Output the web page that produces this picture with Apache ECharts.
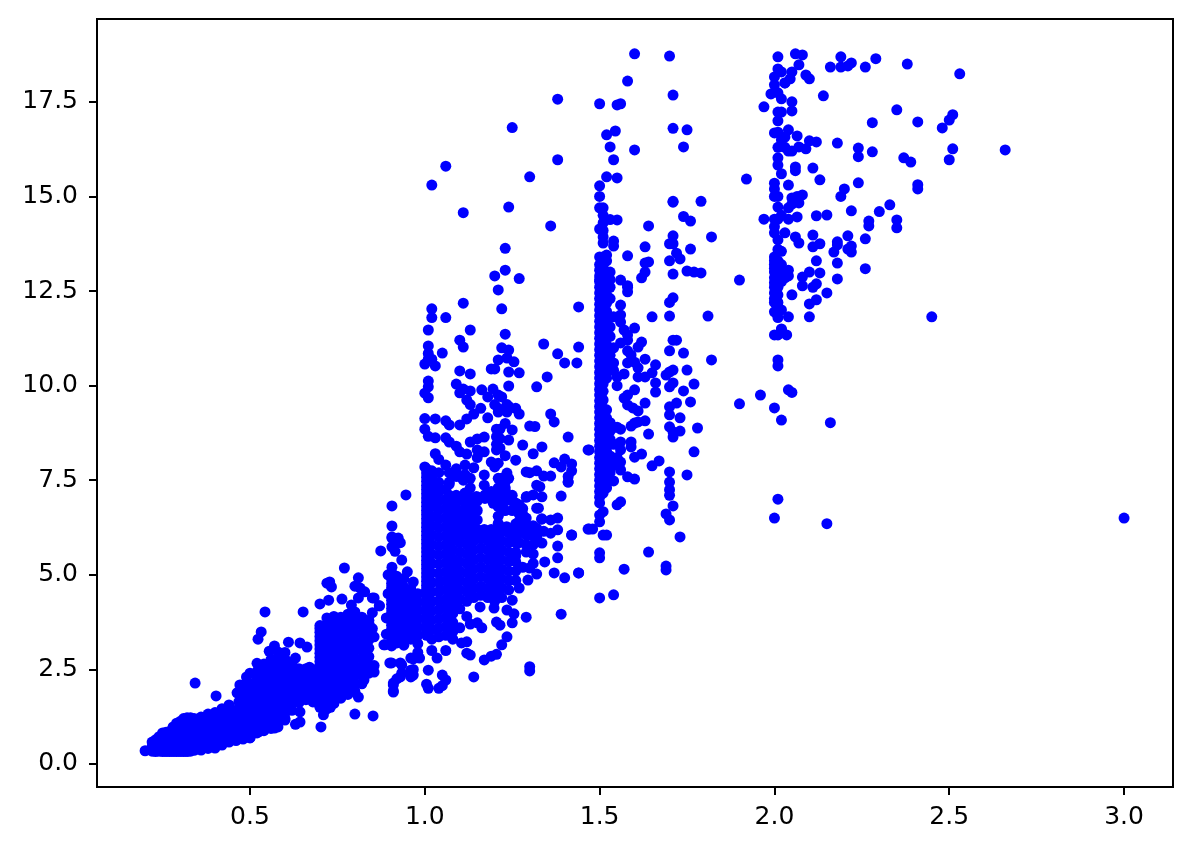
<!DOCTYPE html>
<html><head><meta charset="utf-8">
<style>html,body{margin:0;padding:0;background:#fff}#c{width:1191px;height:851px}</style>
<script src="https://cdn.jsdelivr.net/npm/echarts@6/dist/echarts.min.js"></script>
</head><body><div id="c"></div>
<script>
const xTicks=[0.5,1.0,1.5,2.0,2.5,3.0];
const yTicks=[0,2.5,5,7.5,10,12.5,15,17.5];
// each row: carat, then prices read at that carat
const rowsSmall=[
[.20,.35],[.22,.34,.46,.58],[.23,.33,.5,.64],[.24,.34,.5,.62,.72],[.25,.33,.46,.58,.7,.82],[.26,.33,.45,.56,.68,.84],[.27,.33,.46,.58,.7,.86],
[.28,.33,.48,.6,.72,.85,.98],[.29,.33,.45,.56,.7,.84,1.0,1.08],[.30,.33,.45,.58,.72,.86,1.0,1.12],[.31,.33,.46,.6,.75,.9,1.05,1.2],[.32,.33,.47,.62,.78,.93,1.08,1.22],
[.33,.34,.48,.64,.8,.95,1.1,1.22],[.34,.36,.5,.66,.82,.98,1.1,1.2],[.36,.37,.52,.68,.84,1.0,1.14,1.24],[.38,.41,.56,.7,.86,1.02,1.18,1.32],[.40,.42,.58,.74,.9,1.06,1.2,1.36],
[.42,.5,.66,.82,.98,1.14,1.3,1.46],[.44,.58,.72,.88,1.04,1.2,1.36,1.56],[.46,.62,.78,.94,1.1,1.26,1.42],[.48,.66,.82,.98,1.14,1.3,1.46,1.62,1.8,2.02]
];
const rowsHalf=[
[.49,.72,.9,1.08,1.26,1.44,1.62,1.8,1.98,2.16,2.3],[.50,.7,.86,1.04,1.22,1.4,1.58,1.76,1.94,2.12,2.4],[.52,.82,1.0,1.18,1.36,1.54,1.72,1.9,2.08,2.26,2.44,2.66],
[.54,.88,1.06,1.24,1.42,1.6,1.78,1.96,2.14,2.32,2.5,2.64],[.56,.94,1.12,1.3,1.48,1.66,1.84,2.02,2.2,2.38,2.56,2.76],[.58,.98,1.16,1.34,1.52,1.7,1.88,2.06,2.24,2.42,2.6,2.82,2.96],
[.60,1.16,1.34,1.52,1.7,1.88,2.06,2.24,2.42,2.6,2.78],[.62,1.42,1.6,1.78,1.96,2.14,2.32,2.5,2.66],[.64,1.62,1.8,1.98,2.16,2.34,2.52],[.66,1.7,1.88,2.06,2.24,2.42,2.52],[.68,1.64,1.82,2.0,2.18,2.36,2.5]
];
const rowsSeven=[
[.70,1.5,1.61,1.72,1.83,1.94,2.05,2.16,2.27,2.38,2.49,2.6,2.71,2.82,2.93,3.04,3.15,3.26,3.37,3.48,3.58,3.66],[.72,1.46,1.7,1.92,2.14,2.36,2.58,2.8,3.02,3.24,3.46,3.68,3.86],[.74,1.6,1.82,2.04,2.26,2.48,2.7,2.92,3.14,3.36,3.58,3.8,3.9],
[.76,1.74,1.96,2.18,2.4,2.62,2.84,3.06,3.28,3.5,3.72,3.88],[.78,1.84,2.06,2.28,2.5,2.72,2.94,3.16,3.38,3.6,3.82,3.96],[.80,1.92,2.14,2.36,2.58,2.8,3.02,3.24,3.46,3.68,3.9,4.02],
[.82,2.12,2.34,2.56,2.78,3.0,3.22,3.44,3.66,3.88],[.84,2.4,2.62,2.84,3.06,3.28,3.5,3.72]
];
const rowsNine=[
[.905,3.12,3.23,3.34,3.45,3.56,3.67,3.78,3.89,4.0,4.11,4.22,4.33,4.44,4.55,4.66,4.77,4.88,4.98,5.06],[.92,3.2,3.42,3.64,3.86,4.08,4.3,4.52,4.74,4.96],[.94,3.14,3.36,3.58,3.8,4.02,4.24,4.46,4.68,4.9],
[.96,3.3,3.52,3.74,3.96,4.18,4.4,4.62],[.98,3.18,3.4,3.62,3.84,4.06,4.28,4.5]
];
const rowsOne=[
[1.005,3.4,3.51,3.62,3.73,3.84,3.95,4.06,4.17,4.28,4.39,4.5,4.61,4.72,4.83,4.94,5.05,5.16,5.27,5.38,5.49,5.6,5.71,5.82,5.93,6.04,6.15,6.26,6.37,6.48,6.59,6.7,6.81,6.92,7.03,7.14,7.25,7.36,7.47,7.58,7.69,7.8],
[1.02,3.3,3.55,3.8,4.05,4.3,4.55,4.8,5.05,5.3,5.55,5.8,6.05,6.3,6.55,6.8,7.05,7.3,7.55,7.75],
[1.04,3.36,3.6,3.84,4.08,4.32,4.56,4.8,5.04,5.28,5.52,5.76,6.0,6.24,6.48,6.72,6.96,7.2,7.44,7.7],
[1.06,3.4,3.64,3.88,4.12,4.36,4.6,4.84,5.08,5.32,5.56,5.8,6.04,6.28,6.52,6.76,7.0,7.25],
[1.08,3.5,3.74,3.98,4.22,4.46,4.7,4.94,5.18,5.42,5.66,5.9,6.14,6.38,6.62,6.85]
];
const rowsWide=[
[1.10,4.1,4.35,4.6,4.85,5.1,5.35,5.6,5.85,6.1],[1.12,4.3,4.55,4.8,5.05,5.3,5.55,5.8,6.05,6.3],[1.14,4.4,4.65,4.9,5.15,5.4,5.65,5.9,6.15],
[1.16,4.46,4.7,4.95,5.2,5.45,5.7,5.95],[1.18,4.4,4.65,4.9,5.15,5.4,5.65,5.9,6.1],[1.20,4.3,4.55,4.8,5.05,5.3,5.55,5.8,6.05],
[1.22,4.4,4.65,4.9,5.15,5.4,5.65,5.9,6.15],[1.24,4.6,4.85,5.1,5.35,5.6,5.85,6.1],[1.26,4.85,5.1,5.35,5.6,5.85,6.0]
];
const rowsBlobTop=[
[1.07,5.6,5.85,6.1,6.35,6.6,6.85,7.1,7.4],[1.09,6.0,6.25,6.5,6.75,7.0,7.6,7.8],[1.11,6.2,6.45,6.7,6.95,7.5],[1.13,6.3,6.55,6.8,7.05,7.3,7.55],
[1.15,6.2,6.45,6.7,6.95],[1.17,6.1,6.2],[1.19,6.2,7.0,7.2],[1.21,6.3,6.55,6.8,7.05,7.3,7.55],[1.23,6.25,6.7,6.95,7.2,7.45],
[1.25,6.2,6.7,6.95],[1.27,6.1,6.35,6.6,6.85],[1.29,5.8,6.05,6.3],[1.31,5.3,5.55,5.8,6.05]
];
const looseLace=[[1.115,7.15],[1.129,7.02],[1.148,7.07],[1.172,7.11],[1.191,7.15],[1.21,7.2],[1.229,7.24],[1.244,7.07],[1.22,6.98],[1.196,6.89],[1.172,7.02],[1.129,6.63],[1.144,6.71],[1.11,6.41],[1.139,6.36],[1.225,6.71],[1.21,6.36],[1.234,6.27],[1.263,6.36],[1.263,6.76],[1.281,6.58],[1.291,7.07],[1.31,7.11],[1.329,7.33],[1.325,6.76],[1.334,6.47],[1.3,6.27],[1.32,6.23],[1.286,6.14],[1.158,6.14],[1.177,6.05],[1.129,6.19],[1.105,6.05],[1.09,7.1],[1.07,7.45],[1.09,6.75]];
const rowsOneFive=[
[1.50,6.9,7.05,7.2,7.35,7.5,7.65,7.8,7.95,8.1,8.25,8.4,8.55,8.7,8.85,9.0,9.15,9.3,9.45,9.6,9.75,9.9,10.05,10.2,10.35,10.5,10.65,10.8,10.95,11.1,11.25,11.4,11.55,11.7,11.85,12.0,12.15,12.3,12.45,12.6,12.75,12.9,13.05,13.2],
[1.51,7.16,7.4,7.62,7.84,8.06,8.3,8.52,8.74,8.96,9.18,9.4,9.62,9.85,10.05,10.3,10.52,10.74,10.96,11.18,11.4,11.62,11.84,12.06,12.28,12.5,12.72,12.94,13.16,13.4],
[1.52,7.3,7.8,8.04,8.26,8.48,8.7,8.92,9.14,9.36,10.2,10.42,10.64,10.86,11.08,11.3,11.52,11.74,11.96,12.18,12.4,12.62,12.84],
[1.53,7.7,8.14,8.58,8.8,9.02,10.55,10.8,11.3,11.55,11.8,12.3,12.6],
[1.54,8.45,8.9,10.6,11.0]
];
const rowsTwo=[
[2.00,11.95,12.2,12.3,12.45,12.6,12.72,12.85,13.0,13.1,13.2,13.3,13.4,14.04,14.2,14.4,15.0,15.2,15.35,16.68,17.95,18.16],
[2.01,11.34,11.8,12.2,12.4,12.6,12.8,12.95,13.1,13.3,13.6,13.85,14.4,14.72,15.0,15.83,16.02,16.3,16.7,17.0,17.23,17.74,18.37],
[2.02,12.0,12.75,13.0,13.2,13.55,14.5,15.6,16.5,17.23,17.58,18.29],[2.03,12.85,13.0,14.04,16.3,16.57,18.0],[2.04,12.9,13.05]
];
const looseLow=[[.343,2.14],[.403,1.8],[.471,2.09],[.463,1.88],[.468,1.64],[.543,4.02],[.652,4.02],[.532,3.49],[.523,3.3],[.57,3.12],[.555,2.98],[.61,3.22],[.643,3.2],[.663,3.09],[.63,2.8],[.6,2.95],[.67,2.56],[.643,1.38],[.643,1.11],[.6,1.2],[.63,1.05],[.57,.95],[.525,.85],[.5,.69]];
const looseSeven=[[.70,4.23],[.725,4.33],[.763,4.36],[.79,4.2],[.72,4.78],[.728,4.81],[.733,4.68],[.77,5.18],[.81,4.92],[.80,4.7],[.815,4.65],[.828,4.55],[.81,4.39],[.85,4.39],[.87,4.18],[.85,4.0],[.84,3.8],[.855,3.36],[.855,2.43],[.826,2.22],[.81,1.77],[.80,1.32],[.852,1.27],[.703,.98],[.71,1.3],[.73,1.5],[.855,2.6],[.85,3.58]];
const looseNine=[[.906,6.82],[.946,7.11],[.906,6.29],[.874,5.63],[.906,5.97],[.906,5.74],[.924,5.97],[.93,5.85],[.934,5.39],[.906,5.2],[.95,5.08],[.967,4.81],[.886,3.15],[.90,2.67],[.93,2.67],[.967,2.78],[.967,2.5],[.967,2.35],[.934,2.4],[.92,2.25],[.91,2.14],[.91,1.93],[.883,3.15],[.89,3.86],[.89,3.43],[.905,2.67],[.934,2.62],[.91,2.09],[.91,1.9],[.93,2.3],[.96,2.8],[.96,2.48],[.96,2.3],[.87,4.18],[.855,4.39],[.906,6.0],[.915,5.62],[.92,5.85],[.985,2.8],[.895,4.5],[.895,5.0],[.98,2.95]];
const looseOneLow=[[1.01,2.48],[1.005,2.11],[1.01,2.0],[1.04,2.0],[1.05,2.35],[1.06,2.22],[1.05,2.07],[1.14,2.3],[1.30,2.57],[1.30,2.46],[1.29,3.88],[1.39,3.96],[1.17,2.75],[1.19,2.85],[1.205,2.9],[1.22,3.15],[1.235,3.36],[1.12,2.93],[1.13,2.88],[1.105,3.2],[1.12,3.23],[1.205,3.75],[1.215,3.67],[1.25,3.73],[1.235,4.07],[1.255,3.97],[1.158,4.15],[1.198,4.12],[1.163,3.6],[1.15,3.73],[1.13,3.7],[1.035,2.8],[1.02,3.0],[1.06,3.0],[1.08,3.3],[1.10,3.6],[1.12,3.9],[1.25,4.33],[1.27,4.65],[1.295,4.86],[1.32,5.02],[1.30,5.18],[1.343,5.34],[1.37,5.05],[1.40,4.92],[1.44,5.05],[1.38,5.45],[1.38,5.76],[1.42,6.05],[1.467,6.21],[1.38,6.19],[1.36,6.1],[1.335,5.84],[1.29,5.6],[1.27,5.85],[1.28,5.2],[1.26,5.5],[1.30,6.05],[1.32,6.0],[1.34,6.15]];
const looseOneMid=[[1.115,7.16],[1.14,6.95],[1.17,7.37],[1.17,7.64],[1.09,6.93],[1.14,6.7],[1.11,6.63],[1.20,7.0],[1.23,7.3],[1.25,7.1],[1.22,6.8],[1.26,6.9],[1.29,7.05],[1.28,6.75],[1.32,7.37],[1.335,7.06],[1.32,6.76],[1.335,6.48],[1.26,6.34],[1.29,6.5],[1.31,6.3],[1.38,6.5],[1.36,6.45],[1.24,7.55],[1.22,7.55],[1.235,7.69],[1.29,7.72],[1.30,7.7],[1.32,7.75],[1.34,7.61],[1.36,7.61],[1.37,7.96],[1.39,7.85],[1.40,8.06],[1.42,7.93],[1.42,7.75],[1.41,7.6],[1.41,7.45],[1.39,7.08],[1.41,7.45],[1.115,7.9],[1.14,7.83],[1.115,7.65],[1.10,7.6],[1.19,7.98],[1.21,7.95],[1.2,7.85],[1.26,8.03],[1.31,8.2],[1.335,8.38],[1.28,8.43],[1.23,8.15],[1.15,8.1],[1.17,8.25],[1.15,8.3],[1.12,8.19],[1.10,8.25],[1.09,8.4],[1.07,8.51],[1.06,8.62],[1.03,8.62],[1.01,8.66],[1.0,8.85],[1.03,8.2],[1.04,8.05],[1.06,7.9],[1.07,7.7],[1.0,7.85]];
const looseOneHigh=[[1.11,12.18],[1.02,12.03],[1.22,12.03],[1.44,12.08],[1.02,11.8],[1.06,11.8],[1.01,11.47],[1.13,11.47],[1.23,11.36],[1.10,11.2],[1.11,11.02],[1.01,11.05],[1.34,11.1],[1.44,11.02],[1.22,11.0],[1.24,10.94],[1.01,10.85],[1.01,10.7],[1.05,10.86],[1.38,10.84],[1.40,10.6],[1.435,10.6],[1.00,10.57],[1.03,10.52],[1.02,10.7],[1.21,10.68],[1.235,10.73],[1.255,10.63],[1.24,10.36],[1.27,10.34],[1.19,10.44],[1.20,10.44],[1.10,10.39],[1.13,10.31],[1.35,10.23],[1.32,9.97],[1.24,9.99],[1.01,10.12],[1.01,9.97],[1.0,9.8],[1.01,9.68],[1.09,10.04],[1.10,9.81],[1.11,9.91],[1.13,9.86],[1.163,9.89],[1.195,9.91],[1.18,9.7],[1.21,9.75],[1.22,9.7],[1.12,9.62],[1.13,9.5],[1.2,9.5],[1.21,9.4],[1.235,9.5],[1.24,9.45],[1.16,9.4],[1.26,9.4],[1.27,9.25],[1.36,9.25],[1.37,9.04],[1.14,9.25],[1.18,9.15],[1.21,9.3],[1.235,9.3],[1.12,9.12],[1.10,8.96],[1.0,9.13],[1.03,9.12],[1.06,9.07],[1.07,8.96],[1.205,8.85],[1.215,8.85],[1.23,9.0],[1.25,8.83],[1.205,8.65],[1.205,8.45],[1.205,8.3],[1.215,8.6],[1.215,8.35],[1.24,8.56],[1.30,8.93],[1.315,8.92],[1.41,8.64],[1.467,8.3],[1.13,8.51],[1.15,8.59],[1.17,8.64],[1.02,15.3],[1.06,15.8],[1.11,14.57],[1.25,16.82],[1.30,15.52],[1.36,14.22],[1.38,15.97],[1.38,17.57],[1.24,14.72],[1.23,13.63],[1.23,13.05],[1.20,12.9],[1.27,12.83],[1.21,12.53]];
const looseOneFiveTop=[[1.60,18.77],[1.70,18.71],[1.58,18.05],[1.50,17.45],[1.55,17.42],[1.56,17.45],[1.71,17.68],[1.71,16.8],[1.75,16.76],[1.74,16.31],[1.545,16.73],[1.52,16.63],[1.53,16.31],[1.60,16.23],[1.54,15.97],[1.52,15.52],[1.55,15.49],[1.50,15.28],[1.50,15.0],[1.50,14.7],[1.51,14.7],[1.51,14.5],[1.51,14.3],[1.53,14.39],[1.55,14.38],[1.50,14.14],[1.51,14.1],[1.51,13.93],[1.51,13.77],[1.54,13.82],[1.54,13.69],[1.64,14.22],[1.71,13.96],[1.70,13.75],[1.82,13.93],[1.63,13.67],[1.76,13.61],[1.72,13.5],[1.73,13.35],[1.70,13.3],[1.58,13.43],[1.64,13.27],[1.63,13.24],[1.63,13.0],[1.62,12.85],[1.56,12.79],[1.58,12.64],[1.71,12.95],[1.75,13.03],[1.77,13.0],[1.79,12.98],[1.90,12.79],[1.50,13.4],[1.52,13.45],[1.52,13.3],[1.53,13.0],[1.50,12.8],[1.53,12.8],[1.71,14.87],[1.79,14.87],[1.74,14.47],[1.76,14.35],[1.71,14.85],[1.71,13.75]];
const looseOneFiveLow=[[1.56,12.13],[1.58,12.6],[1.58,12.48],[1.71,12.32],[1.70,12.2],[1.65,11.82],[1.70,11.84],[1.81,11.84],[1.56,11.87],[1.54,11.82],[1.56,11.68],[1.60,11.52],[1.57,11.47],[1.58,11.34],[1.58,11.2],[1.56,11.13],[1.62,11.15],[1.61,11.02],[1.71,11.2],[1.72,11.2],[1.70,10.92],[1.74,10.86],[1.82,10.68],[1.58,10.92],[1.59,10.81],[1.63,10.7],[1.58,10.6],[1.6,10.62],[1.61,10.47],[1.66,10.55],[1.75,10.41],[1.71,10.41],[1.70,10.36],[1.69,10.28],[1.65,10.34],[1.63,10.23],[1.61,10.23],[1.57,10.31],[1.55,10.23],[1.66,10.07],[1.66,9.83],[1.71,10.07],[1.70,9.97],[1.77,10.04],[1.74,9.86],[1.60,9.89],[1.58,9.75],[1.57,9.67],[1.76,9.57],[1.72,9.54],[1.70,9.44],[1.70,9.23],[1.63,9.54],[1.58,9.49],[1.595,9.41],[1.61,9.33],[1.73,9.15],[1.63,9.07],[1.61,9.04],[1.60,9.01],[1.59,8.93],[1.70,8.91],[1.71,8.78],[1.71,8.64],[1.73,8.8],[1.78,8.88],[1.64,8.72],[1.56,8.85],[1.56,8.51],[1.59,8.51],[1.59,8.38],[1.56,8.3],[1.47,8.3],[1.77,8.25],[1.62,8.19],[1.60,8.11],[1.56,7.98],[1.56,7.77],[1.67,8.01],[1.65,7.88],[1.70,7.72],[1.75,7.64],[1.58,7.59],[1.60,7.53],[1.54,7.48],[1.70,7.45],[1.70,7.25],[1.70,7.1],[1.71,6.82],[1.69,6.61],[1.70,6.45],[1.56,6.93],[1.55,6.85],[1.51,6.67],[1.50,6.58],[1.50,6.4],[1.47,6.21],[1.48,6.21],[1.51,6.05],[1.52,6.05],[1.42,6.05],[1.73,6.0],[1.50,5.58],[1.50,5.45],[1.64,5.6],[1.57,5.15],[1.69,5.23],[1.69,5.13],[1.44,5.05],[1.50,4.39],[1.54,4.47],[1.55,10.0],[1.55,8.9],[1.55,8.1],[1.54,7.9],[1.53,7.5],[1.54,10.4]];
const looseTwoTop=[[2.01,18.69],[2.06,18.77],[2.08,18.74],[2.07,18.48],[2.05,18.29],[2.045,18.11],[2.03,18.0],[2.09,18.21],[2.10,18.11],[2.16,18.42],[2.19,18.69],[2.19,18.42],[2.21,18.45],[2.22,18.53],[2.26,18.42],[2.29,18.64],[2.38,18.5],[2.53,18.24],[1.99,17.71],[2.05,17.5],[2.05,17.26],[2.14,17.66],[1.97,17.37],[2.28,16.95],[2.35,17.29],[2.41,16.97],[2.51,17.16],[2.50,17.02],[2.48,16.81],[2.04,16.76],[2.065,16.6],[2.10,16.47],[2.12,16.44],[2.18,16.41],[2.24,16.28],[2.24,16.05],[2.28,16.18],[2.51,16.26],[2.66,16.23],[2.50,15.97],[2.37,16.02],[2.39,15.91],[2.04,16.2],[2.07,16.31],[2.09,16.26],[2.05,16.2],[2.06,15.78],[2.06,15.68],[2.11,15.75],[2.13,15.44],[2.04,15.3],[2.24,15.36],[2.20,15.2],[2.19,15.0],[2.41,15.31],[2.41,15.2],[1.92,15.46]];
const looseTwoLow=[[2.08,15.04],[2.065,15.0],[2.05,14.96],[2.07,14.83],[2.05,14.8],[2.04,14.7],[2.33,14.78],[2.22,14.62],[2.30,14.6],[2.12,14.49],[2.15,14.51],[2.065,14.46],[2.04,14.4],[2.27,14.35],[2.27,14.22],[2.35,14.38],[2.35,14.17],[1.97,14.4],[2.11,13.98],[2.06,13.93],[2.07,13.77],[2.21,13.96],[2.26,13.88],[2.18,13.8],[2.18,13.72],[2.13,13.75],[2.11,13.67],[2.22,13.69],[2.21,13.61],[2.22,13.53],[2.17,13.53],[2.12,13.3],[2.18,13.24],[2.26,13.09],[2.10,13.0],[2.13,12.98],[2.08,12.87],[2.08,12.64],[2.11,12.6],[2.12,12.69],[2.18,12.82],[2.05,12.4],[2.15,12.45],[2.12,12.27],[2.10,12.16],[2.04,11.82],[2.10,11.82],[2.45,11.82],[2.02,11.5],[2.00,11.34],[2.02,11.47],[2.035,11.34],[2.01,10.68],[2.01,10.52],[1.96,9.75],[1.90,9.52],[2.00,9.41],[2.02,9.09],[2.04,9.89],[2.05,9.82],[2.16,9.02],[2.01,7.0],[2.00,6.5],[2.15,6.35],[3.00,6.5]];
const expand=rows=>rows.flatMap(r=>r.slice(1).map(p=>[r[0],p]));
const points=[...expand(rowsSmall),...expand(rowsHalf),...expand(rowsSeven),...expand(rowsNine),...expand(rowsOne),...expand(rowsWide),...expand(rowsBlobTop),...expand(rowsOneFive),...expand(rowsTwo),
 ...looseLace,...looseLow,...looseSeven,...looseNine,...looseOneLow,...looseOneMid,...looseOneHigh,...looseOneFiveTop,...looseOneFiveLow,...looseTwoTop,...looseTwoLow];
const axisFont={color:'#000',fontFamily:'DejaVu Sans',fontSize:25};
const line={show:true,onZero:false,lineStyle:{color:'#000',width:2}};
const tick={show:true,length:8,lineStyle:{color:'#000',width:2}};
const chart=echarts.init(document.getElementById('c'),null,{renderer:'canvas'});
chart.setOption({animation:false,backgroundColor:'#fff',
 grid:{left:97,right:18,top:19,bottom:64,show:true,borderColor:'#000',borderWidth:2,backgroundColor:'#fff'},
 xAxis:{type:'value',min:0.0624,max:3.14,scale:true,splitLine:{show:false},axisLine:line,
  axisTick:{...tick,customValues:xTicks},
  axisLabel:{...axisFont,margin:18,customValues:xTicks,formatter:v=>Number(v).toFixed(1)}},
 yAxis:{type:'value',min:-0.608,max:19.69,scale:true,splitLine:{show:false},axisLine:line,
  axisTick:{...tick,customValues:yTicks},
  axisLabel:{...axisFont,margin:19,padding:[3,0,0,0],customValues:yTicks,formatter:v=>Number(v).toFixed(1)}},
 series:[{type:'scatter',data:points,symbol:'circle',symbolSize:11,itemStyle:{color:'#0000ff',opacity:1},large:false,silent:true}]
});
</script></body></html>
